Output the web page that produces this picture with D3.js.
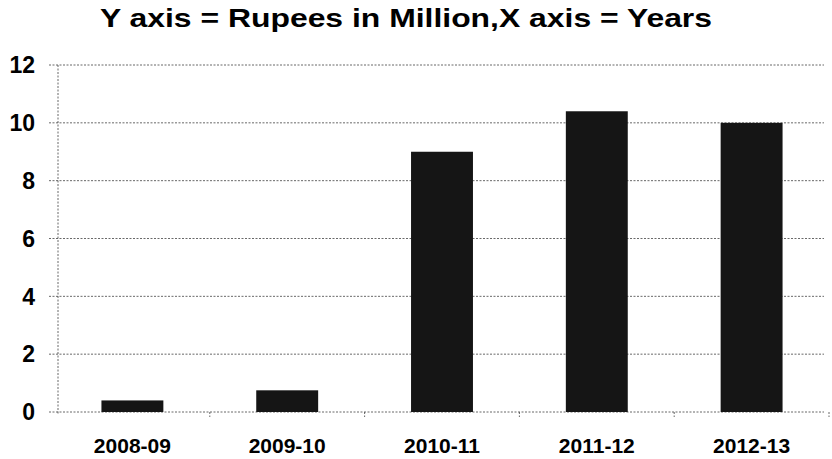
<!DOCTYPE html>
<html>
<head>
<meta charset="utf-8">
<script src="https://cdn.jsdelivr.net/npm/d3@7"></script>
<style>
    body { margin: 0; background: #fff; }
    text { font-family: "Liberation Sans", Arial, sans-serif; font-weight: bold; fill: #000; }
    .grid line { stroke: #444; stroke-width: 1; stroke-dasharray: 2,1.5; opacity: 0.8; }
</style>
</head>
<body>
<div id="chart"></div>
<script>
// values
const years = ["2008-09", "2009-10", "2010-11", "2011-12", "2012-13"]
const rupees = [0.4, 0.75, 9.0, 10.4, 10.0]
const yTicks = [0, 2, 4, 6, 8, 10, 12]
const title = "Y axis = Rupees in Million,X axis = Years"

const width = 832, height = 459
const margin = { top: 65, right: 3, bottom: 47, left: 55 }

const svg = d3.select("#chart").append("svg")
    .attr("width", width)
    .attr("height", height)

const x = d3.scaleBand()
    .domain(years)
    .range([margin.left, width - margin.right])
    .paddingInner(0.6)
    .paddingOuter(0.3)

const y = d3.scaleLinear()
    .domain([0, 12])
    .range([height - margin.bottom, margin.top])

// dotted gridlines
svg.append("g").attr("class", "grid")
    .selectAll("line").data(yTicks).enter().append("line")
    .attr("x1", margin.left - 6)
    .attr("x2", width - 8)
    .attr("y1", d => y(d))
    .attr("y2", d => y(d))

// y axis line
svg.append("g").attr("class", "grid")
    .append("line")
    .attr("x1", margin.left + 3).attr("x2", margin.left + 3)
    .attr("y1", y(12)).attr("y2", y(0) + 3)

// small x ticks between categories
const step = x.step()
svg.append("g").attr("class", "grid")
    .selectAll("line").data(years).enter().append("line")
    .attr("x1", d => x(d) + x.bandwidth() / 2 + step / 2)
    .attr("x2", d => x(d) + x.bandwidth() / 2 + step / 2)
    .attr("y1", y(0))
    .attr("y2", y(0) + 5)

svg.append("g")
    .selectAll("rect").data(rupees).enter().append("rect")
    .attr("x", (d, i) => x(years[i]))
    .attr("width", x.bandwidth())
    .attr("y", d => y(d))
    .attr("height", d => y(0) - y(d))
    .attr("fill", "#151515")

// y tick labels
svg.append("g")
    .selectAll("text").data(yTicks).enter().append("text")
    .attr("x", 35)
    .attr("y", d => y(d))
    .attr("dy", "0.36em")
    .attr("text-anchor", "end")
    .attr("font-size", 23)
    .text(d => d)

// x labels
svg.append("g")
    .selectAll("text").data(years).enter().append("text")
    .attr("x", d => x(d) + x.bandwidth() / 2)
    .attr("y", 453)
    .attr("text-anchor", "middle")
    .attr("font-size", 21)
    .text(d => d)

// the scanned title is a bit wider than the font, stretch it
svg.append("text")
    .attr("x", 100)
    .attr("y", 27)
    .attr("font-size", 26)
    .attr("textLength", 612)
    .attr("lengthAdjust", "spacingAndGlyphs")
    .text(title)
</script>
</body>
</html>
